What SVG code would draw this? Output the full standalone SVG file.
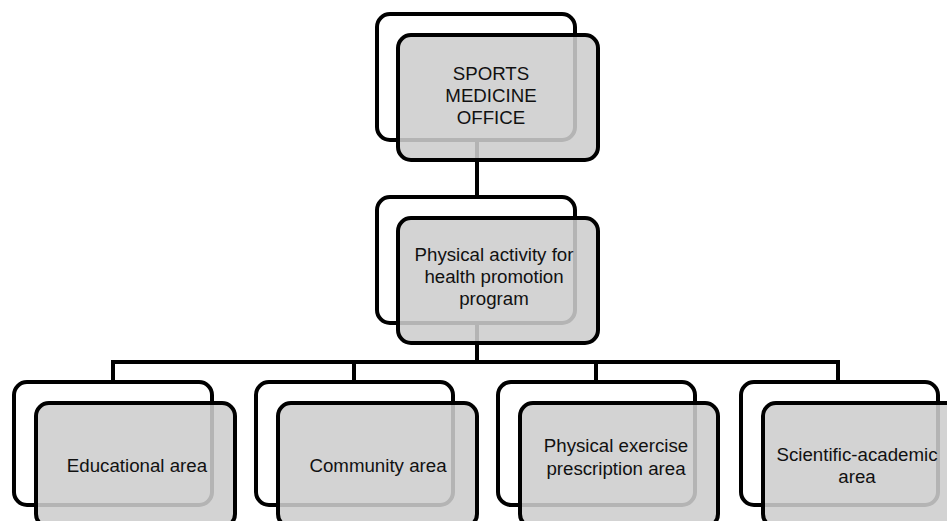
<svg xmlns="http://www.w3.org/2000/svg" width="947" height="521" viewBox="0 0 947 521">
<style>
.back{fill:#ffffff;stroke:#000;stroke-width:4}
.front{fill:#cdcdcd;fill-opacity:0.88;stroke:#000;stroke-width:4}
.conn{fill:none;stroke:#000;stroke-width:4}
text{font-family:"Liberation Sans",Arial,sans-serif;font-size:18.7px;fill:#111;text-anchor:middle}
</style>
<rect width="947" height="521" fill="#fff"/>
<g id="connectors">
<path class="conn" d="M477,140 V197"/>
<path class="conn" d="M477,323 V362"/>
<path class="conn" d="M113,382 V362 H838 V382"/>
<path class="conn" d="M354,362 V382"/>
<path class="conn" d="M596,362 V382"/>
</g>
<g id="node-office">
<rect class="back" x="377" y="14" width="198" height="126" rx="13"/>
<rect class="front" x="398" y="35" width="200" height="125" rx="13"/>
<text x="491" y="80">SPORTS</text>
<text x="491" y="102">MEDICINE</text>
<text x="491" y="124">OFFICE</text>
</g>
<g id="node-program">
<rect class="back" x="377" y="197" width="198" height="126" rx="13"/>
<rect class="front" x="398" y="218" width="200" height="125" rx="13"/>
<text x="494" y="261">Physical activity for</text>
<text x="494" y="283">health promotion</text>
<text x="494" y="305">program</text>
</g>
<g id="node-educational">
<rect class="back" x="14" y="382" width="198" height="123" rx="13"/>
<rect class="front" x="36" y="403" width="199" height="124" rx="13"/>
<text x="137" y="472">Educational area</text>
</g>
<g id="node-community">
<rect class="back" x="256" y="382" width="197" height="123" rx="13"/>
<rect class="front" x="278" y="403" width="199" height="124" rx="13"/>
<text x="378" y="472">Community area</text>
</g>
<g id="node-prescription">
<rect class="back" x="498" y="382" width="197" height="123" rx="13"/>
<rect class="front" x="520" y="403" width="198" height="124" rx="13"/>
<text x="616" y="452">Physical exercise</text>
<text x="616" y="475">prescription area</text>
</g>
<g id="node-scientific">
<rect class="back" x="741" y="382" width="197" height="123" rx="13"/>
<rect class="front" x="763" y="403" width="199" height="124" rx="13"/>
<text x="857" y="461">Scientific-academic</text>
<text x="857" y="483">area</text>
</g>
</svg>
